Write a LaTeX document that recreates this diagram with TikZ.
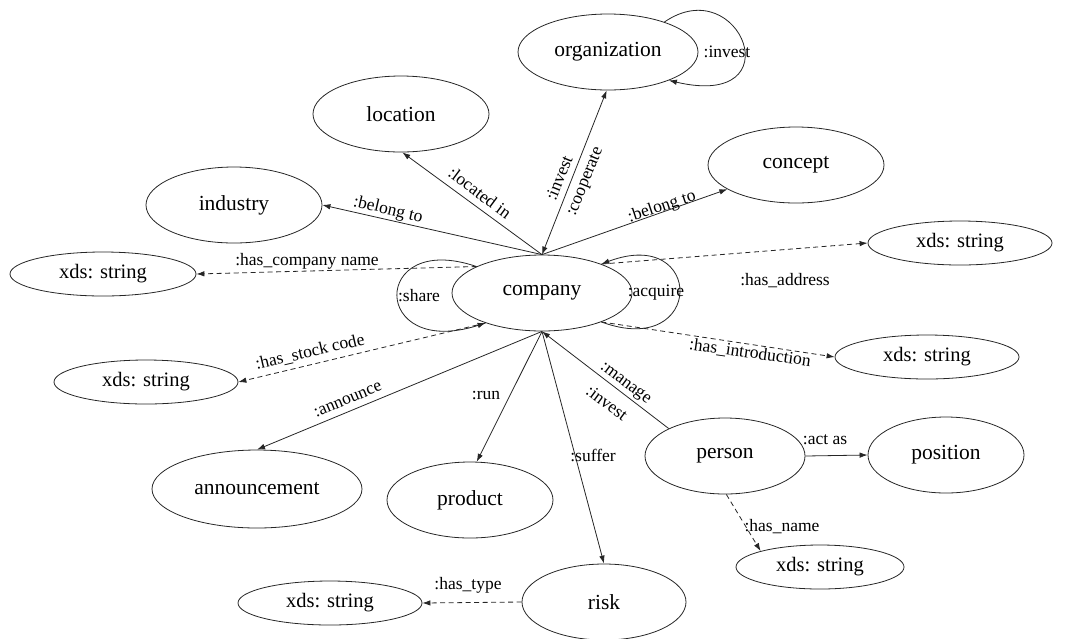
\documentclass[tikz,border=0pt]{standalone}
\usepackage{fontspec}
\setmainfont{Liberation Serif}
\newfontfamily\diagfont{Liberation Serif}
\usetikzlibrary{arrows.meta,shapes.geometric}

\begin{document}
\begin{tikzpicture}[x=1pt,y=-1pt,
  ent/.style={draw=black!85, ellipse, inner sep=0pt, line width=0.8pt,
              font=\diagfont\fontsize{21.5}{24}\selectfont},
  lit/.style={ent, minimum height=44pt, font=\diagfont\fontsize{20.5}{24}\selectfont},
  tip/.tip={Latex[length=8pt,width=5.5pt]},
  rel/.style={draw=black!85, line width=0.8pt, -tip},
  relb/.style={rel, tip-tip},
  dat/.style={rel, dash pattern=on 5pt off 3.5pt},
  lab/.style={font=\diagfont\fontsize{17.5}{20}\selectfont, inner sep=0pt},
]
\useasboundingbox (0,0) rectangle (1075,638);

% entity classes
\node[ent, minimum width=180pt, minimum height=76pt] (company)      at (542,293) {company};
\node[ent, minimum width=180pt, minimum height=76pt] (organization) at (608,52)  {organization};
\node[ent, minimum width=176pt, minimum height=76pt] (location)     at (401,114) {location};
\node[ent, minimum width=176pt, minimum height=76pt] (concept)      at (796,165) {concept};
\node[ent, minimum width=176pt, minimum height=76pt] (industry)     at (234,205) {industry};
\node[ent, minimum width=210pt, minimum height=78pt] (announcement) at (257,489) {announcement};
\node[ent, minimum width=166pt, minimum height=76pt] (product)      at (470,500) {product};
\node[ent, minimum width=164pt, minimum height=76pt] (risk)         at (604,602) {risk};
\node[ent, minimum width=160pt, minimum height=76pt] (person)       at (725,456) {person};
\node[ent, minimum width=156pt, minimum height=76pt] (position)     at (946,455) {position};

% literal values
\node[lit, minimum width=186pt] (strName)  at (103,274) {xds: string};
\node[lit, minimum width=184pt] (strAddr)  at (960,243) {xds: string};
\node[lit, minimum width=184pt] (strIntro) at (927,357) {xds: string};
\node[lit, minimum width=184pt] (strCode)  at (146,382) {xds: string};
\node[lit, minimum width=184pt] (strType)  at (330,603) {xds: string};
\node[lit, minimum width=168pt] (strPName) at (820,567) {xds: string};

% object properties
\draw[rel]  (company.north) -- (industry.east);
\draw[rel]  (company.north) -- (location.-88);
\draw[relb] (company.north) -- (organization.-92);
\draw[rel]  (company.north) -- (concept);
\draw[rel]  (company.south) -- (announcement.north);
\draw[rel]  (company.south) -- (product.80);
\draw[rel]  (company.south) -- (risk.north);
\draw[rel]  (person.154) -- (company.south);
\draw[rel]  (person.east) -- (position.west);

% self relations
\draw[rel] (company.158) .. controls (370,230) and (370,360) .. (company.-152);
\draw[rel] (company.-26) .. controls (705,360) and (705,225) .. (company.26);
\draw[rel] (organization.28) .. controls (740,-30) and (795,110) .. (organization.-25);

% data properties
\draw[dat] (company.158)  -- (strName.east);
\draw[dat] (company.26)   -- (strAddr.west);
\draw[dat] (company.-26)  -- (strIntro.west);
\draw[dat] (company.-152) -- (strCode.east);
\draw[dat] (person.-88)   -- (strPName.165);
\draw[dat] (risk.west)    -- (strType.east);

% property labels
\node[lab, rotate=-36.7] (lLoc)   at (480,193) {:located in};
\node[lab, rotate=68]    (lInv)   at (559,178) {:invest};
\node[lab, rotate=68]    (lCoop)  at (586,182) {:cooperate};
\node[lab, rotate=18.4]  (lBelC)  at (662,207) {:belong to};
\node[lab, rotate=-13.2] (lBelI)  at (388,210) {:belong to};
\node[lab]               (lName)  at (307,261) {:has\_company name};
\node[lab]               (lAddr)  at (785,281) {:has\_address};
\node[lab, rotate=-8]    (lIntro) at (750,353) {:has\_introduction};
\node[lab, rotate=13]    (lCode)  at (310,352) {:has\_stock code};
\node[lab]               (lShare) at (419,296) {:share};
\node[lab]               (lAcq)   at (656,293) {:acquire};
\node[lab]               (lOInv)  at (727,52)  {:invest};
\node[lab, rotate=22.8]  (lAnn)   at (348,400) {:announce};
\node[lab]               (lRun)   at (486,395) {:run};
\node[lab]               (lSuf)   at (593,455) {:suffer};
\node[lab, rotate=-36.8] (lMan)   at (625,384) {:manage};
\node[lab, rotate=-36.8] (lPInv)  at (607,403) {:invest};
\node[lab]               (lAct)   at (825,440) {:act as};
\node[lab]               (lPName) at (782,527) {:has\_name};
\node[lab]               (lType)  at (468,585) {:has\_type};
\end{tikzpicture}
\end{document}
